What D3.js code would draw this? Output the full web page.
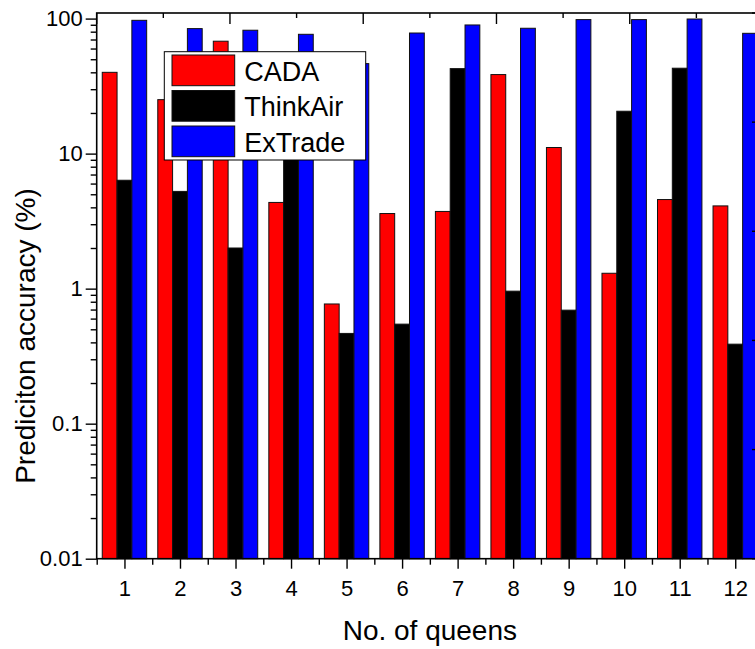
<!DOCTYPE html>
<html>
<head>
<meta charset="utf-8">
<script src="https://cdn.jsdelivr.net/npm/d3@7"></script>
<style>
  html, body { margin: 0; padding: 0; background: #fff; }
  svg { display: block; font-family: "Liberation Sans", Arial, sans-serif; }
</style>
</head>
<body>
<svg id="chart" width="755" height="649"></svg>
<script>
// Prediction accuracy (%) per number of queens, log scale
const queens = [1, 2, 3, 4, 5, 6, 7, 8, 9, 10, 11, 12];
const seriesNames = ["CADA", "ThinkAir", "ExTrade"];
const cada     = [40, 25.1, 68, 4.35, 0.77, 3.6, 3.73, 38.5, 11.1, 1.3, 4.57, 4.1];
const thinkAir = [6.35, 5.25, 2.0, 15, 0.466, 0.546, 42.6, 0.958, 0.693, 20.6, 42.9, 0.388];
const exTrade  = [97.1, 84.3, 82, 76.5, 46.4, 78.2, 89.7, 84.8, 98.3, 98.3, 99.3, 77.8];
const yTickValues = [0.01, 0.1, 1, 10, 100];
const yTickLabels = ["0.01", "0.1", "1", "10", "100"];

const colors = { "CADA": "#ff0000", "ThinkAir": "#000000", "ExTrade": "#0000ff" };
const seriesValues = { "CADA": cada, "ThinkAir": thinkAir, "ExTrade": exTrade };

const svg = d3.select("#chart");
const plotLeft = 96.7, plotRight = 763, plotTop = 13, plotBottom = 558.7;

const x = d3.scaleLinear().domain([0.5, 12.5]).range([plotLeft, plotRight]);
const band = d3.scaleBand().domain(queens).range([plotLeft, plotRight])
  .paddingInner(0.2).paddingOuter(0.1);
const inner = d3.scaleBand().domain(seriesNames).range([0, band.bandwidth()]);
const y = d3.scaleLog().domain([0.01, 110]).range([plotBottom, plotTop]);

// Bars
const rows = queens.map((q, i) => seriesNames.map(s => ({ q, s, v: seriesValues[s][i] })));
svg.append("g").selectAll("g").data(rows).join("g")
  .attr("transform", d => `translate(${band(d[0].q)},0)`)
  .selectAll("rect").data(d => d).join("rect")
  .attr("x", d => inner(d.s))
  .attr("width", inner.bandwidth())
  .attr("y", d => y(d.v))
  .attr("height", d => y(0.01) - y(d.v))
  .attr("fill", d => colors[d.s])
  .attr("stroke", "#111")
  .attr("stroke-width", 1);

// Left axis (log) with minor ticks
const minor = [];
[0.01, 0.1, 1, 10].forEach(dec => { for (let k = 2; k <= 9; k++) minor.push(dec * k); });
const yAxis = d3.axisLeft(y).tickValues(yTickValues)
  .tickFormat((d, i) => yTickLabels[i]).tickSize(11).tickPadding(3);
const gy = svg.append("g").attr("transform", `translate(${plotLeft},0)`).call(yAxis);
gy.select(".domain").remove();
gy.selectAll("line").attr("stroke-width", 1.4);
gy.selectAll("text").attr("font-size", 22).attr("fill", "#000");
svg.append("g").attr("transform", `translate(${plotLeft},0)`)
  .call(d3.axisLeft(y).tickValues(minor).tickSize(6).tickFormat(""))
  .call(g => g.select(".domain").remove())
  .selectAll("line").attr("stroke-width", 1.4);

// Bottom axis with half-step minor ticks
const gx = svg.append("g").attr("transform", `translate(0,${plotBottom})`)
  .call(d3.axisBottom(x).tickValues(queens).tickFormat(d3.format("d")).tickSize(10).tickPadding(12));
gx.select(".domain").remove();
gx.selectAll("line").attr("stroke-width", 1.4);
gx.selectAll("text").attr("font-size", 22).attr("fill", "#000");
const halfTicks = d3.range(0.5, 13, 1);
svg.append("g").attr("transform", `translate(0,${plotBottom})`)
  .call(d3.axisBottom(x).tickValues(halfTicks).tickSize(6).tickFormat(""))
  .call(g => g.select(".domain").remove())
  .selectAll("line").attr("stroke-width", 1.4);

// Top and right frame axes (unlabelled, ticks pointing inward)
const xTop = d3.scaleLinear().domain([0, 10]).range([plotLeft, plotRight]);
svg.append("g").selectAll("line").data(d3.range(0, 11)).join("line")
  .attr("x1", d => xTop(d)).attr("x2", d => xTop(d))
  .attr("y1", plotTop).attr("y2", d => plotTop + (d % 2 === 0 ? 11 : 5))
  .attr("stroke", "#000").attr("stroke-width", 1.4);
const yRight = d3.scaleLinear().domain([0, 10]).range([plotBottom, plotTop]);
svg.append("g").selectAll("line").data(d3.range(0, 11)).join("line")
  .attr("y1", d => yRight(d)).attr("y2", d => yRight(d))
  .attr("x1", plotRight).attr("x2", d => plotRight - (d % 2 === 0 ? 11 : 5))
  .attr("stroke", "#000").attr("stroke-width", 1.4);

// Plot frame
svg.append("rect")
  .attr("x", plotLeft).attr("y", plotTop)
  .attr("width", plotRight - plotLeft).attr("height", plotBottom - plotTop)
  .attr("fill", "none").attr("stroke", "#000").attr("stroke-width", 1.6);

// Axis titles
svg.append("text")
  .attr("x", (plotLeft + plotRight) / 2).attr("y", 640)
  .attr("text-anchor", "middle").attr("font-size", 28)
  .text("No. of queens");
svg.append("text")
  .attr("transform", "translate(35,336) rotate(-90)")
  .attr("text-anchor", "middle").attr("font-size", 28)
  .text("Prediciton accuracy (%)");

// Legend
const legend = svg.append("g");
legend.append("rect")
  .attr("x", 164.3).attr("y", 51.7).attr("width", 201.4).attr("height", 108.3)
  .attr("fill", "#fff").attr("stroke", "#000").attr("stroke-width", 1);
const item = legend.selectAll("g.item").data(seriesNames).join("g")
  .attr("class", "item")
  .attr("transform", (d, i) => `translate(172,${55 + i * 35.5})`);
item.append("rect")
  .attr("width", 62.7).attr("height", 30.7)
  .attr("fill", d => colors[d]).attr("stroke", "#111").attr("stroke-width", 1);
item.append("text")
  .attr("x", 72.3).attr("y", 25.5)
  .attr("font-size", 27)
  .text(d => d);
</script>
</body>
</html>
